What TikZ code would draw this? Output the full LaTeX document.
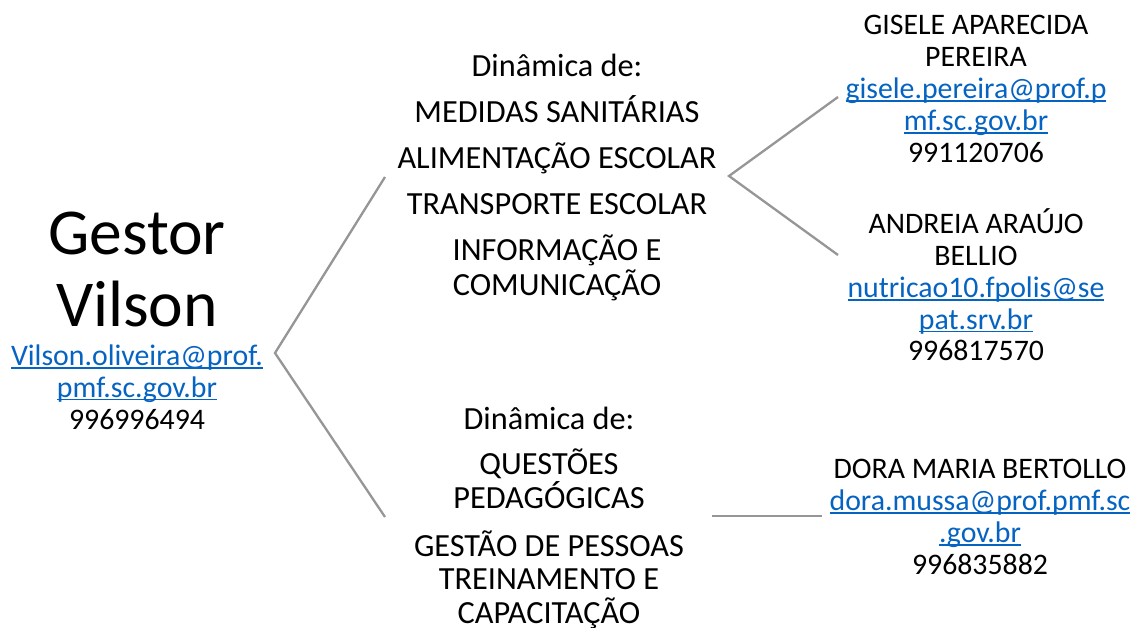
\documentclass[tikz,border=0pt]{standalone}
\usepackage{fontspec}
\setmainfont{Carlito}
\definecolor{linkblue}{RGB}{5,99,193}
\definecolor{linegray}{RGB}{150,150,150}
\newcommand{\lnk}[1]{\textcolor{linkblue}{\setbox0\hbox{#1}\rlap{\rule[-3.2pt]{\wd0}{1.8pt}}\box0}}
\begin{document}
\begin{tikzpicture}[x=1pt,y=-1pt,
  txt/.style={align=center,inner sep=0pt,font=\fontsize{32.3}{35}\selectfont},
  btxt/.style={align=center,inner sep=0pt,font=\fontsize{32.3}{33.5}\selectfont},
  ctxt/.style={align=center,inner sep=0pt,font=\fontsize{29.8}{31.8}\selectfont},
  big/.style={align=center,inner sep=0pt,font=\fontsize{65.5}{72}\selectfont},
  conn/.style={draw=linegray,line width=2.3pt}]
\useasboundingbox (0,0) rectangle (1139,628);
\node[big] (gestor) at (137,269) {Gestor\\Vilson};
\node[ctxt] (gcontact) at (137,387) {\lnk{Vilson.oliveira@prof.}\\\lnk{pmf.sc.gov.br}\\996996494};
\node[txt] (top) at (557,177) {Dinâmica de:\\[11pt]MEDIDAS SANITÁRIAS\\[11pt]ALIMENTAÇÃO ESCOLAR\\[11pt]TRANSPORTE ESCOLAR\\[11pt]INFORMAÇÃO E\\COMUNICAÇÃO};
\node[btxt] (bottom) at (549,518) {Dinâmica de:\\[11.5pt]QUESTÕES\\PEDAGÓGICAS\\[14.5pt]GESTÃO DE PESSOAS\\TREINAMENTO E\\CAPACITAÇÃO};
\node[ctxt] (gisele) at (976,89) {GISELE APARECIDA\\PEREIRA\\\lnk{gisele.pereira@prof.p}\\\lnk{mf.sc.gov.br}\\991120706};
\node[ctxt] (andreia) at (976,285) {ANDREIA ARAÚJO\\BELLIO\\\lnk{nutricao10.fpolis@se}\\\lnk{pat.srv.br}\\996817570};
\node[ctxt] (dora) at (980,517) {DORA MARIA BERTOLLO\\\lnk{dora.mussa@prof.pmf.sc}\\\lnk{.gov.br}\\996835882};
\coordinate (gtip) at (275,353);
\coordinate (topin) at (385,177);
\coordinate (botin) at (385,517);
\coordinate (toptip) at (729,176);
\coordinate (gisin) at (838,97);
\coordinate (andin) at (838,255);
\coordinate (botout) at (712,516);
\coordinate (dorain) at (822,516);
\draw[conn] (topin) -- (gtip) -- (botin);
\draw[conn] (gisin) -- (toptip) -- (andin);
\draw[conn] (botout) -- (dorain);
\end{tikzpicture}
\end{document}
